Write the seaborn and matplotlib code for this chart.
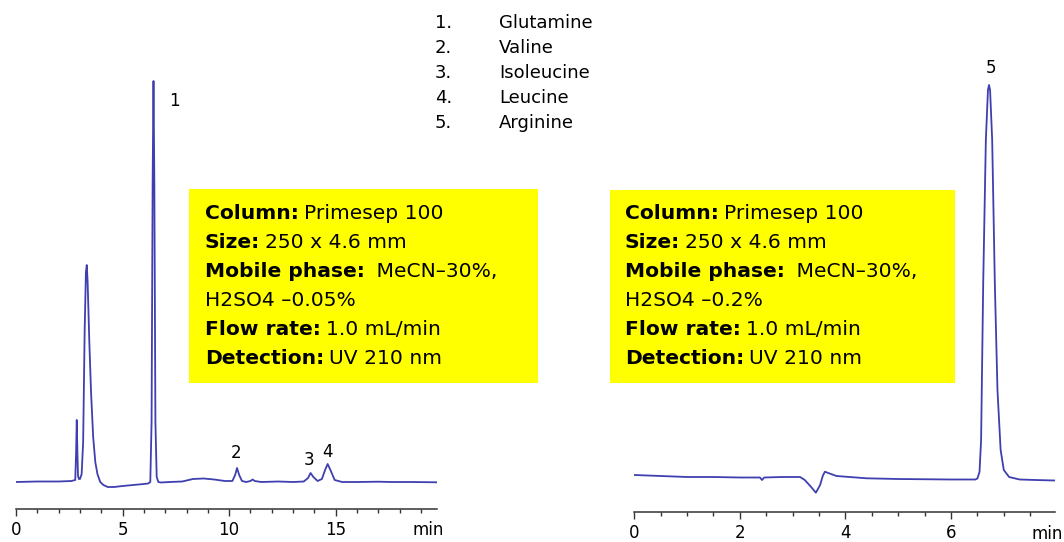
import matplotlib
matplotlib.use("Agg")
import matplotlib.pyplot as plt
from matplotlib.patches import Rectangle
from matplotlib.ticker import MultipleLocator
import pandas as pd
import seaborn as sns

# -------------------------
# data (time in min, signal in arbitrary units)
# -------------------------

left_time = [0.0, 1.0, 2.0, 2.6, 2.78, 2.82, 2.85, 2.88, 2.91, 2.95, 3.0, 3.08,
             3.15, 3.22, 3.28, 3.32, 3.36, 3.44, 3.52, 3.62, 3.72, 3.82, 3.95,
             4.1, 4.3, 4.6, 5.0, 5.5, 6.0, 6.2, 6.3, 6.36, 6.41, 6.45, 6.49,
             6.54, 6.60, 6.68, 6.8, 7.2, 7.8, 8.3, 8.8, 9.3, 9.8, 10.15, 10.28,
             10.37, 10.47, 10.6, 10.8, 11.0, 11.1, 11.2, 11.5, 12.3, 13.0, 13.5,
             13.7, 13.82, 13.95, 14.15, 14.35, 14.5, 14.62, 14.75, 14.95, 15.3,
             16.0, 17.0, 17.6, 18.5, 19.75]
left_signal = [0, 0.5, 0.5, 1, 2, 30, 62, 30, 6, 3, 3, 8,
               40, 150, 210, 217, 200, 140, 90, 45, 20, 8, 0,
               -3, -5, -5, -4, -3, -2, -1.5, 0, 60, 300, 401, 300,
               60, 5, 0, -0.5, 0, 0.5, 3, 3.5, 2.5, 1, 1, 7,
               14, 7, 1, 0, 1, 2.5, 1, 0, 0.5, 0, 0.5,
               4, 9, 5, 1, 3, 12, 18, 12, 2, 0,
               0, 0.3, 0, 0, -0.3]

right_time = [0.0, 0.5, 1.0, 1.5, 2.0, 2.38, 2.42, 2.46, 2.8, 3.14, 3.23, 3.35,
              3.44, 3.52, 3.57, 3.61, 3.7, 3.83, 4.4, 5.0, 6.0, 6.46, 6.50,
              6.54, 6.57, 6.61, 6.66, 6.70, 6.72, 6.74, 6.78, 6.83, 6.88, 6.94,
              7.0, 7.1, 7.3, 7.6, 7.97]
right_signal = [5, 4, 3, 3, 2.5, 2.5, 0, 2.5, 3, 3, 0, -7,
                -12.7, -5, 4, 8.3, 6.5, 4, 1.7, 1, 0.5, 0.5, 1.5,
                8, 40, 197, 340, 390, 395, 390, 340, 197, 90, 30,
                10, 3, 0.5, 0, -0.5]

compounds = ["Glutamine", "Valine", "Isoleucine", "Leucine", "Arginine"]

left_peaks = ["1", "2", "3", "4"]
right_peaks = ["5"]

left_conditions = [
    ("Column:", "Primesep 100"),
    ("Size:", "250 x 4.6 mm"),
    ("Mobile phase:", " MeCN\u201330%,"),
    ("", "H2SO4 \u20130.05%"),
    ("Flow rate:", "1.0 mL/min"),
    ("Detection:", "UV 210 nm"),
]
right_conditions = [
    ("Column:", "Primesep 100"),
    ("Size:", "250 x 4.6 mm"),
    ("Mobile phase:", " MeCN\u201330%,"),
    ("", "H2SO4 \u20130.2%"),
    ("Flow rate:", "1.0 mL/min"),
    ("Detection:", "UV 210 nm"),
]

# label anchor points (time, signal)
left_peak_pos = [(7.45, 381), (10.34, 29), (13.75, 22), (14.6, 30)]
right_peak_pos = [(6.75, 412)]

W, H = 1064, 542
LINE = "#3f3faf"

sns.set_theme(style="white")
plt.rcParams["font.family"] = ["DejaVu Sans"]
plt.rcParams["text.color"] = "black"


def fx(x):
    return x / W


def fy(y):
    return 1 - y / H


def setup_axis(ax, xmax, major, minor):
    for s in ["top", "left", "right"]:
        ax.spines[s].set_visible(False)
    ax.spines["bottom"].set_color("#333333")
    ax.spines["bottom"].set_linewidth(1.1)
    ax.set_xlim(0, xmax)
    ax.set_yticks([])
    ax.set_xlabel("")
    ax.set_ylabel("")
    ax.xaxis.set_major_locator(MultipleLocator(major))
    ax.xaxis.set_minor_locator(MultipleLocator(minor))
    ax.tick_params(axis="x", which="major", direction="out", length=5,
                   width=1.0, color="#333333", labelsize=12, pad=3.5,
                   bottom=True, labelcolor="black")
    ax.tick_params(axis="x", which="minor", direction="out", length=3,
                   width=1.0, color="#333333", bottom=True)
    ax.patch.set_alpha(0)


def condition_box(fig, x0, y0, x1, y1, lines, tx, ty0, dy):
    fig.add_artist(Rectangle((fx(x0), fy(y1)), fx(x1 - x0), (y1 - y0) / H,
                             transform=fig.transFigure, facecolor="#ffff00",
                             edgecolor="none", zorder=5))
    for i, (bold, rest) in enumerate(lines):
        y = fy(ty0 + i * dy)
        if bold:
            t = fig.text(fx(tx), y, bold, fontsize=14.6, fontweight="bold",
                         va="baseline", zorder=6)
            fig.canvas.draw()
            bb = t.get_window_extent()
            fig.text(fx(bb.x1 + 5), y, rest, fontsize=14.6, va="baseline",
                     zorder=6)
        else:
            fig.text(fx(tx), y, rest, fontsize=14.6, va="baseline", zorder=6)


fig = plt.figure(figsize=(W / 100, H / 100), dpi=100)

# -------------------------
# left chromatogram
# -------------------------

ax1 = fig.add_axes([fx(16), (H - 509) / H, 421 / W, 509 / H])
df1 = pd.DataFrame({"time": left_time, "signal": left_signal})
sns.lineplot(data=df1, x="time", y="signal", ax=ax1, color=LINE,
             linewidth=1.3, sort=False, estimator=None)
ax1.set_ylim(-27, 482)
setup_axis(ax1, 19.75, 5, 1)
for lab, (t, s) in zip(left_peaks, left_peak_pos):
    ax1.text(t, s, lab, fontsize=12, ha="center", va="center")

# -------------------------
# right chromatogram
# -------------------------

ax2 = fig.add_axes([fx(634.3), (H - 512.3) / H, (1055 - 634.3) / W, 512.3 / H])
df2 = pd.DataFrame({"time": right_time, "signal": right_signal})
sns.lineplot(data=df2, x="time", y="signal", ax=ax2, color=LINE,
             linewidth=1.3, sort=False, estimator=None)
ax2.set_ylim(-32.3, 480)
setup_axis(ax2, 7.97, 2, 0.5)
for lab, (t, s) in zip(right_peaks, right_peak_pos):
    ax2.text(t, s, lab, fontsize=12, ha="center", va="center")

fig.text(fx(428), fy(530), "min", fontsize=12, ha="center", va="center")
fig.text(fx(1047), fy(534), "min", fontsize=12, ha="center", va="center")

# -------------------------
# compound legend
# -------------------------

for i, name in enumerate(compounds):
    y = fy(28 + i * 25)
    fig.text(fx(435), y, f"{i + 1}.", fontsize=13, va="baseline")
    fig.text(fx(499), y, name, fontsize=13, va="baseline")

# -------------------------
# condition boxes
# -------------------------

condition_box(fig, 189, 189, 538, 383, left_conditions, 205, 219, 29)
condition_box(fig, 610, 190, 955, 383, right_conditions, 625, 219, 29)

fig.savefig("out.png", dpi=100)
plt.close(fig)
